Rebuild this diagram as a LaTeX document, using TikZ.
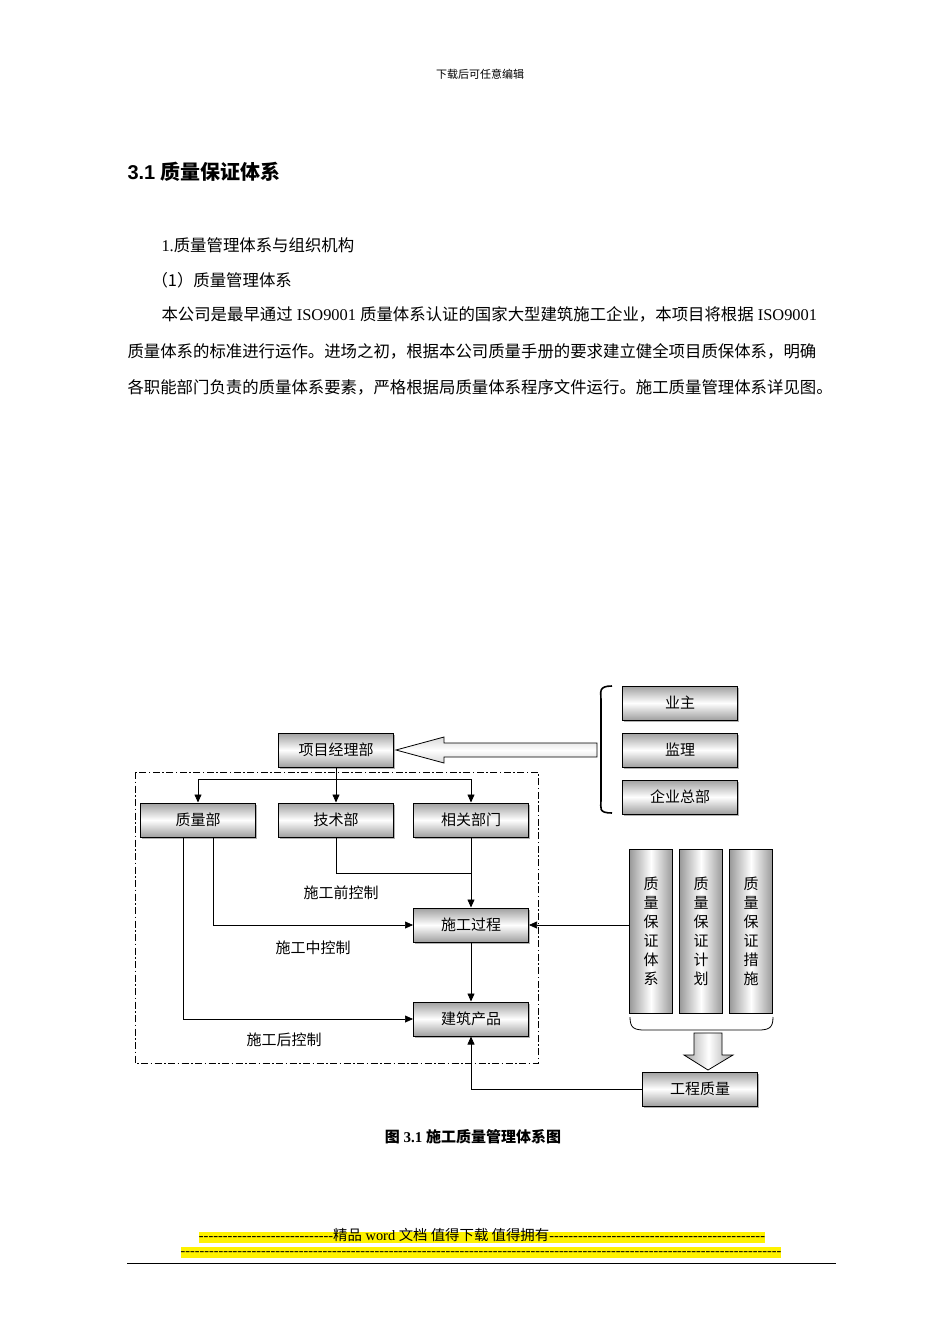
\documentclass[tikz,border=0pt]{standalone}
\usepackage{fontspec}
\setmainfont{Liberation Serif}
\newfontfamily\cjk{Noto Sans CJK SC}
\newfontfamily\hei{Liberation Sans}
\newfontfamily\plain{Liberation Serif}[Ligatures=ResetAll]
\usetikzlibrary{arrows.meta,decorations.pathreplacing,shadows}
\begin{document}
\begin{tikzpicture}[x=1pt,y=-1pt,
 box/.style={draw,line width=1pt,minimum width=115pt,minimum height=34pt,top color=gray!75,bottom color=gray!75,middle color=white,font=\cjk\fontsize{15}{15}\selectfont,drop shadow={shadow xshift=1.5pt,shadow yshift=-1.5pt,fill=black!60}},
 col/.style={draw,line width=1pt,minimum width=43pt,minimum height=164pt,left color=gray!80,right color=gray!80,middle color=white,font=\cjk\fontsize{15}{19}\selectfont,align=center,text width=15pt},
 lab/.style={font=\cjk\fontsize{15}{15}\selectfont},
 ar/.style={-{Triangle[length=8pt,width=7pt]},line width=0.7pt},
 ln/.style={line width=0.7pt},
 foot/.style={fill=yellow,inner sep=0pt,text height=9pt,text depth=2pt},
 txt/.style={font=\fontsize{16.4}{16.4}\selectfont,anchor=west}]
\useasboundingbox[fill=white] (0,0) rectangle (950,1344);
% header texts
\node[font=\cjk\fontsize{11}{11}\selectfont] (hdr) at (480,74) {下载后可任意编辑};
\node[anchor=west,font=\hei\bfseries\fontsize{20}{20}\selectfont] (ttl) at (124,172) {3.1 {\cjk\bfseries 质量保证体系}};
\node[txt] (p1) at (158,245) {1.{\cjk 质量管理体系与组织机构}};
\node[txt] (p2) at (148,280) {\cjk （1）质量管理体系};
\node[txt] (p3) at (158,314) {{\cjk 本公司是最早通过} ISO9001 {\cjk 质量体系认证的国家大型建筑施工企业，本项目将根据} ISO9001};
\node[txt] (p4) at (124,351) {\cjk 质量体系的标准进行运作。进场之初，根据本公司质量手册的要求建立健全项目质保体系，明确};
\node[txt] (p5) at (124,387) {\cjk 各职能部门负责的质量体系要素，严格根据局质量体系程序文件运行。施工质量管理体系详见图。};
% boxes
\node[box] (pm) at (336,750) {项目经理部};
\node[box] (zl) at (198,820) {质量部};
\node[box] (js) at (336,820) {技术部};
\node[box] (xg) at (471,820) {相关部门};
\node[box] (sg) at (471,925) {施工过程};
\node[box] (jz) at (471,1019) {建筑产品};
\node[box] (yz) at (680,703) {业主};
\node[box] (jl) at (680,750) {监理};
\node[box] (qy) at (680,797) {企业总部};
\node[box] (gc) at (700,1089) {工程质量};
\node[col] (c1) at (651,931) {质\\量\\保\\证\\体\\系};
\node[col] (c2) at (701,931) {质\\量\\保\\证\\计\\划};
\node[col] (c3) at (751,931) {质\\量\\保\\证\\措\\施};
% dash-dot frame
\draw[line width=0.8pt,dash pattern=on 7pt off 2.5pt on 1.5pt off 2.5pt] (135,772) rectangle (538,1063);
% braces
\draw[line width=1.6pt] (612,686) .. controls (598,686) and (601,692) .. (601,700) -- (601,800) .. controls (601,808) and (598,813) .. (612,813);
\draw[line width=0.8pt] (630,1017) .. controls (630,1028) and (634,1030) .. (645,1030) -- (758,1030) .. controls (769,1030) and (773,1028) .. (773,1017);
% big arrows
\draw[line width=0.8pt,top color=gray!30,bottom color=gray!30,middle color=white] (597,743) -- (444,743) -- (444,737) -- (396,750) -- (444,763) -- (444,757) -- (597,757) -- cycle;
\draw[line width=0.8pt,left color=gray!70,right color=gray!70,middle color=white] (694,1033) -- (722,1033) -- (722,1055) -- (733,1055) -- (708,1070) -- (684,1055) -- (694,1055) -- cycle;
% connectors
\coordinate (t1) at (336,779);
\draw[ln] (pm.south) -- (t1);
\draw[ar] (t1) -| (zl.north);
\draw[ar] (t1) -- (js.north);
\draw[ar] (t1) -| (xg.north);
\draw[ln] (js.south) |- (471,873);
\draw[ar] (xg.south) -- (sg.north);
\coordinate (q1) at (213,837);
\coordinate (q2) at (183,837);
\draw[ar] (q1) |- (sg.west);
\draw[ar] (q2) |- (jz.west);
\draw[ar] (sg.south) -- (jz.north);
\draw[ar] (sg.east -| c1.west) -- (sg.east);
\draw[ar] (gc.west) -| (jz.south);
% labels
\node[lab] (l1) at (341,893) {施工前控制};
\node[lab] (l2) at (313,948) {施工中控制};
\node[lab] (l3) at (284,1040) {施工后控制};
\node[font=\bfseries\fontsize{15}{15}\selectfont] (cap) at (473,1137) {{\cjk\bfseries 图} 3.1 {\cjk\bfseries 施工质量管理体系图}};
% footer
\node[foot,font=\plain\fontsize{14.4}{14.4}\selectfont] (f1) at (482,1237) {----------------------------{\cjk 精品} word {\cjk 文档 值得下载 值得拥有}---------------------------------------------};
\node[foot,font=\plain\fontsize{14.2}{14.2}\selectfont] (f2) at (481,1252) {-------------------------------------------------------------------------------------------------------------------------------};
\draw[line width=0.8pt] (127,1263) -- (836,1263);
\end{tikzpicture}
\end{document}
